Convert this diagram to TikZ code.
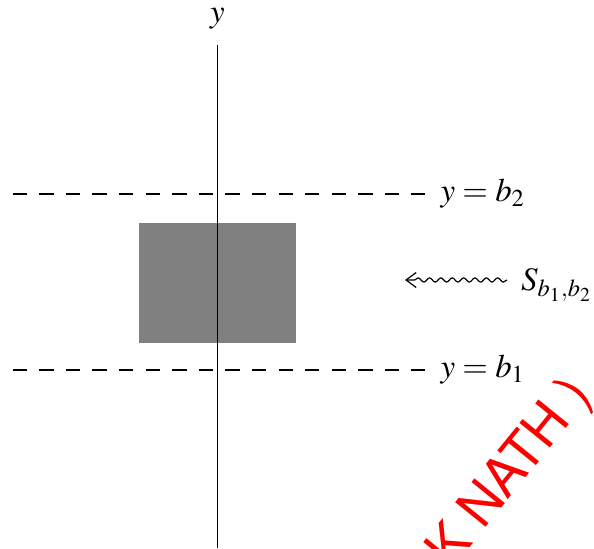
\documentclass[tikz,border=0pt]{standalone}
\usepackage{mathptmx}
\usepackage[no-math]{fontspec}
\newfontfamily\stampfont{TeX Gyre Heros}
\usetikzlibrary{arrows.meta, positioning, decorations.pathmorphing}

\tikzset{
  every node/.style={font=\fontsize{11}{13.5}\selectfont},
  levelline/.style={dash pattern=on 4.8pt off 4.1pt},
  wavyline/.style={decorate, decoration={snake, amplitude=0.7pt,
                   segment length=3.8pt, post length=3pt}},
  stamp/.style={text=red, inner sep=0pt,
                font=\fontsize{18}{22}\stampfont}
}

\begin{document}
\begin{tikzpicture}[>={Straight Barb[length=3.4pt, width=5pt]}, thin]
  \useasboundingbox (0,0) rectangle (6.988,6.447);

  % the strip
  \fill[black!50] (1.635,2.415) rectangle (3.479,3.826);

  % y axis
  \coordinate (axisbot) at (2.559,0);
  \coordinate (axistop) at (2.559,5.918);
  \draw (axisbot) -- (axistop);
  \node[above=5pt of axistop, inner sep=0pt] (ylabel) {$y$};

  % level y = b_2
  \coordinate (btwoleft) at (0.149,4.165);
  \coordinate (btworight) at (5.0,4.165);
  \draw[levelline] (btwoleft) -- (btworight);
  \node[right=5pt of btworight, inner sep=0pt] (btwo) {$y = b_2$};

  % level y = b_1
  \coordinate (boneleft) at (0.149,2.094);
  \coordinate (boneright) at (5.0,2.094);
  \draw[levelline] (boneleft) -- (boneright);
  \node[right=5pt of boneright, inner sep=0pt] (bone) {$y = b_1$};

  % name of the strip
  \node[anchor=base west, inner sep=0pt] (sreg) at (6.125,3.024) {$S_{b_1,b_2}$};
  \coordinate (stip) at (4.765,3.153);
  \path (sreg.west |- stip) ++(-4.6pt,0) coordinate (sstart);
  \draw[->, wavyline] (sstart) -- (stip);

  % stamp
  \node[stamp, anchor=base west, rotate=51] (mark) at (5.309,-0.266) {K NATH )};
\end{tikzpicture}
\end{document}
